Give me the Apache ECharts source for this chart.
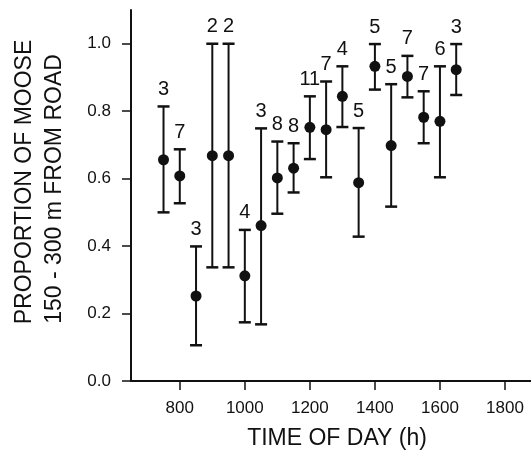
<!DOCTYPE html>
<html>
<head>
<meta charset="utf-8">
<script src="https://cdn.jsdelivr.net/npm/echarts@6/dist/echarts.min.js"></script>
<style>html,body{margin:0;padding:0;background:#fff}#c{width:531px;height:455px}</style>
</head>
<body>
<div id="c"></div>
<script>
const times = [750, 800, 850, 900, 950, 1000, 1050, 1100, 1150, 1200, 1250, 1300, 1350, 1400, 1450, 1500, 1550, 1600, 1650];
const means = [0.656, 0.608, 0.252, 0.668, 0.668, 0.312, 0.461, 0.602, 0.631, 0.752, 0.745, 0.844, 0.588, 0.933, 0.698, 0.903, 0.782, 0.770, 0.923];
const lows  = [0.500, 0.527, 0.106, 0.337, 0.337, 0.174, 0.168, 0.496, 0.559, 0.658, 0.604, 0.753, 0.428, 0.864, 0.517, 0.841, 0.705, 0.604, 0.848];
const highs = [0.814, 0.687, 0.399, 1.000, 1.000, 0.448, 0.749, 0.710, 0.705, 0.844, 0.888, 0.933, 0.750, 0.999, 0.880, 0.964, 0.859, 0.933, 0.999];
const counts = [3, 7, 3, 2, 2, 4, 3, 8, 8, 11, 7, 4, 5, 5, 5, 7, 7, 6, 3];
const xTicks = [800, 1000, 1200, 1400, 1600, 1800];
const yTicks = [0, 0.2, 0.4, 0.6, 0.8, 1.0];

const FONT = '"Liberation Sans", Arial, Helvetica, sans-serif';
const INK = '#111';

const barData = times.map((t, i) => [t, means[i], lows[i], highs[i], counts[i]]);
const ptData = times.map((t, i) => [t, means[i]]);

const chart = echarts.init(document.getElementById('c'), null, {renderer: 'canvas'});
chart.setOption({
  animation: false,
  backgroundColor: '#fff',
  grid: {left: 131, right: 0, top: 10, bottom: 74, containLabel: false},
  xAxis: {
    type: 'value', min: 650, max: 1880,
    axisLine: {show: true, lineStyle: {color: INK, width: 2}},
    axisTick: {show: true, inside: false, length: 9, lineStyle: {color: INK, width: 1.5}, customValues: xTicks},
    axisLabel: {show: true, margin: 19, fontSize: 17, fontFamily: FONT, color: INK, customValues: xTicks,
      formatter: v => String(Math.round(v))},
    splitLine: {show: false}
  },
  yAxis: {
    type: 'value', min: 0, max: 1.1,
    axisLine: {show: true, lineStyle: {color: INK, width: 2}},
    axisTick: {show: true, inside: false, length: 9, lineStyle: {color: INK, width: 1.5}, customValues: yTicks},
    axisLabel: {show: true, margin: 20, fontSize: 17, fontFamily: FONT, color: INK, customValues: yTicks,
      formatter: v => v.toFixed(1)},
    splitLine: {show: false}
  },
  graphic: [
    {type: 'text', x: 25, y: 182, rotation: Math.PI / 2,
      style: {text: 'PROPORTION OF MOOSE', font: '23px ' + FONT, fill: INK, align: 'center', verticalAlign: 'middle'}},
    {type: 'text', x: 55, y: 189, rotation: Math.PI / 2,
      style: {text: '150 - 300 m FROM ROAD', font: '23px ' + FONT, fill: INK, align: 'center', verticalAlign: 'middle'}},
    {type: 'text', x: 337, y: 439,
      style: {text: 'TIME OF DAY (h)', font: '23px ' + FONT, fill: INK, align: 'center', verticalAlign: 'middle'}}
  ],
  series: [
    {
      type: 'custom',
      data: barData,
      renderItem: function (params, api) {
        const x = api.value(0);
        const lo = api.coord([x, api.value(2)]);
        const hi = api.coord([x, api.value(3)]);
        const cw = 6;
        return {
          type: 'group',
          children: [
            {type: 'line', shape: {x1: lo[0], y1: lo[1], x2: hi[0], y2: hi[1]}, style: {stroke: INK, lineWidth: 2}},
            {type: 'line', shape: {x1: lo[0] - cw, y1: lo[1], x2: lo[0] + cw, y2: lo[1]}, style: {stroke: INK, lineWidth: 2.5}},
            {type: 'line', shape: {x1: hi[0] - cw, y1: hi[1], x2: hi[0] + cw, y2: hi[1]}, style: {stroke: INK, lineWidth: 2.5}},
            {type: 'text', x: hi[0], y: hi[1] - 17,
              style: {text: String(api.value(4)), font: '20px ' + FONT, fill: INK, align: 'center', verticalAlign: 'middle'}}
          ]
        };
      },
      z: 2
    },
    {
      type: 'scatter',
      data: ptData,
      symbol: 'circle',
      symbolSize: 11,
      itemStyle: {color: INK, opacity: 1},
      emphasis: {disabled: true},
      z: 3
    }
  ]
});
</script>
</body>
</html>
